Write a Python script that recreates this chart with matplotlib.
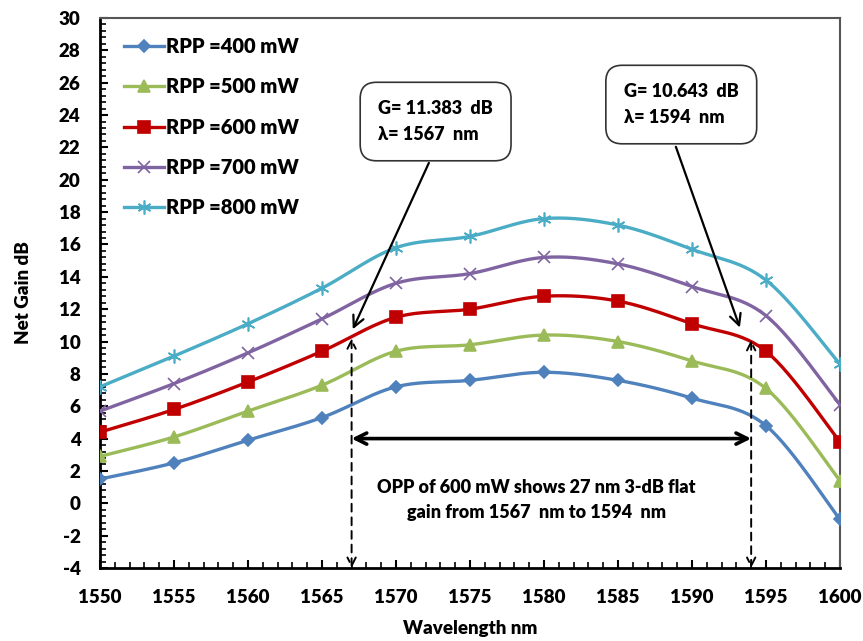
import matplotlib.pyplot as plt
import numpy as np
from matplotlib.ticker import MultipleLocator

plt.rcParams['font.family'] = ['Lato', 'DejaVu Sans']
plt.rcParams['font.weight'] = 'bold'
plt.rcParams['axes.unicode_minus'] = False

# wavelength axis
wavelength = [1550, 1555, 1560, 1565, 1570, 1575, 1580, 1585, 1590, 1595, 1600]

# net gain for each residual pump power
gain_400 = [1.5, 2.5, 3.9, 5.3, 7.2, 7.6, 8.1, 7.6, 6.5, 4.8, -1.0]
gain_500 = [2.9, 4.1, 5.7, 7.3, 9.4, 9.8, 10.4, 10.0, 8.8, 7.1, 1.4]
gain_600 = [4.4, 5.8, 7.5, 9.4, 11.5, 12.0, 12.8, 12.5, 11.1, 9.4, 3.8]
gain_700 = [5.7, 7.4, 9.3, 11.4, 13.6, 14.2, 15.2, 14.8, 13.4, 11.6, 6.1]
gain_800 = [7.2, 9.1, 11.1, 13.3, 15.8, 16.5, 17.6, 17.2, 15.7, 13.8, 8.6]

labels = ['RPP =400 mW', 'RPP =500 mW', 'RPP =600 mW', 'RPP =700 mW', 'RPP =800 mW']
colors = ['#4F81BD', '#9BBB59', '#C00000', '#8064A2', '#4BACC6']
markers = ['D', '^', 's', 'x', (6, 2, 0)]
msizes = [6, 8, 8, 9, 10]

# flat gain region
flat_start, flat_end = 1567, 1594
g_start, g_end = 10.2, 10.1

W = 'heavy'


# Excel-like smoothed line (bezier through the points)
def smooth(xs, ys, n=30):
    p = np.column_stack([xs, ys]).astype(float)
    out = []
    for i in range(len(p) - 1):
        p0 = p[i - 1] if i > 0 else p[i]
        p1 = p[i]
        p2 = p[i + 1]
        p3 = p[i + 2] if i + 2 < len(p) else p[i + 1]
        c1 = p1 + (p2 - p0) / 6
        c2 = p2 - (p3 - p1) / 6
        t = np.linspace(0, 1, n)[:, None]
        seg = (1 - t) ** 3 * p1 + 3 * (1 - t) ** 2 * t * c1 + 3 * (1 - t) * t ** 2 * c2 + t ** 3 * p2
        out.append(seg)
    out = np.vstack(out)
    return out[:, 0], out[:, 1]


fig = plt.figure(figsize=(8.63, 6.41), dpi=100)
ax = fig.add_axes([0.1159, 0.1139, 0.9733 - 0.1159, 0.9719 - 0.1139])

series = [gain_400, gain_500, gain_600, gain_700, gain_800]
for ys, lab, c, m, ms in zip(series, labels, colors, markers, msizes):
    sx, sy = smooth(wavelength, ys)
    ax.plot(sx, sy, color=c, lw=2.4, zorder=3)
    ax.plot(wavelength, ys, ls='none', marker=m, color=c, ms=ms, mew=1.2, zorder=4)
    ax.plot([], [], color=c, lw=2.4, marker=m, ms=ms, mew=1.2, label=lab)

ax.set_xlim(1550, 1600)
ax.set_ylim(-4, 30)
ax.xaxis.set_major_locator(MultipleLocator(5))
ax.xaxis.set_minor_locator(MultipleLocator(1))
ax.yaxis.set_major_locator(MultipleLocator(2))
ax.yaxis.set_minor_locator(MultipleLocator(0.4))
ax.tick_params(which='both', direction='in', labelsize=13.5)
ax.tick_params(which='major', length=6, width=1.5)
ax.tick_params(which='minor', length=4, width=1.2)
ax.tick_params(axis='x', pad=15)
ax.tick_params(axis='y', pad=14)
for lbl in ax.get_xticklabels() + ax.get_yticklabels():
    lbl.set_fontweight(W)

ax.spines['left'].set_linewidth(2)
ax.spines['bottom'].set_linewidth(2)
ax.spines['top'].set_color('#555555')
ax.spines['right'].set_color('#555555')
ax.spines['top'].set_linewidth(1.5)
ax.spines['right'].set_linewidth(1.5)

ax.set_xlabel('Wavelength nm', fontsize=13.5, fontweight=W, labelpad=10)
ax.set_ylabel('Net Gain dB', fontsize=13.5, fontweight=W, labelpad=19)

leg = ax.legend(loc='upper left', frameon=False, fontsize=14.5, handlelength=2.0,
                labelspacing=1.06, borderaxespad=0.4, bbox_to_anchor=(0.01, 0.995),
                handletextpad=0.1)
for t in leg.get_texts():
    t.set_fontweight(W)

# callout boxes
box = dict(boxstyle='round,pad=1.0,rounding_size=0.9', fc='white', ec='#333333', lw=1.2)
ax.text(1568.8, 23.6, 'G= 11.383  dB\nλ= 1567  nm', fontsize=13, fontweight=W,
        ha='left', va='center', bbox=box, linespacing=1.6, zorder=6)
ax.text(1585.4, 24.65, 'G= 10.643  dB\nλ= 1594  nm', fontsize=13, fontweight=W,
        ha='left', va='center', bbox=box, linespacing=1.6, zorder=6)
ax.annotate('', xy=(flat_start, g_start + 0.4), xytext=(1572.3, 21.2),
            arrowprops=dict(arrowstyle='->,head_length=0.8,head_width=0.4', color='black', lw=1.6), zorder=5)
ax.annotate('', xy=(1593.3, 10.7), xytext=(1588.85, 22.2),
            arrowprops=dict(arrowstyle='->,head_length=0.8,head_width=0.4', color='black', lw=1.6), zorder=5)

# dashed vertical markers
for x0, g0 in [(flat_start, g_start), (flat_end, g_end)]:
    ax.annotate('', xy=(x0, -4), xytext=(x0, g0),
                arrowprops=dict(arrowstyle='<->,head_length=0.6,head_width=0.3', color='black',
                                lw=1.4, ls=(0, (4, 3)), shrinkA=0, shrinkB=0), zorder=5)

# flat-gain span
ax.annotate('', xy=(flat_start, 4), xytext=(flat_end, 4),
            arrowprops=dict(arrowstyle='<->,head_length=0.8,head_width=0.4', color='black',
                            lw=2.6, shrinkA=0, shrinkB=0), zorder=5)
ax.text(1579.5, 0.2, 'OPP of 600 mW shows 27 nm 3-dB flat\ngain from 1567  nm to 1594  nm',
        fontsize=13, fontweight=W, ha='center', va='center', linespacing=1.6)

fig.savefig('out.png', dpi=100)
